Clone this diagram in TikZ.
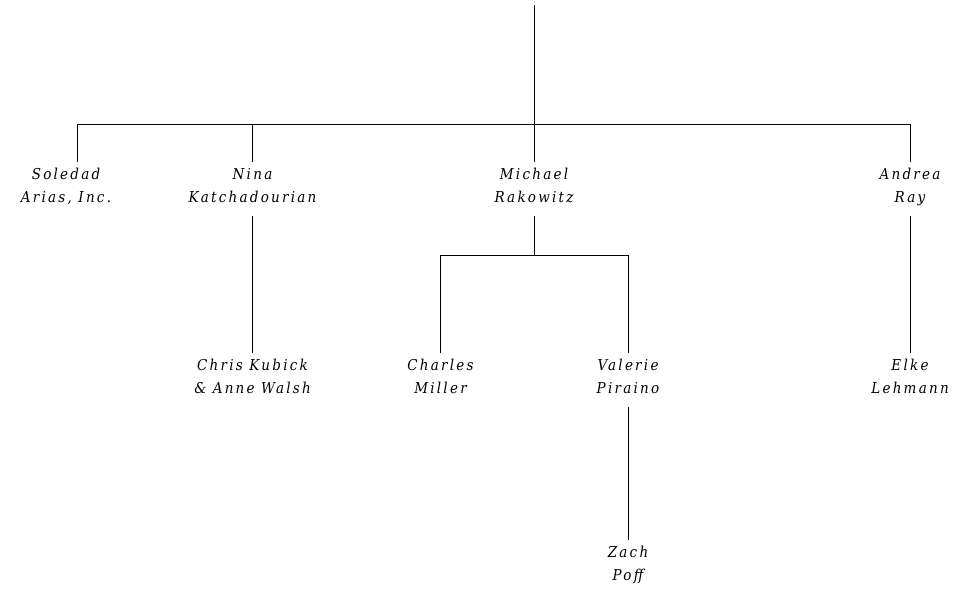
\documentclass[tikz,border=0pt]{standalone}
\usepackage{fontspec}
\newfontfamily\labfont[LetterSpace=15]{DejaVu Serif Condensed}
\begin{document}
\begin{tikzpicture}[x=1pt,y=-1pt,
  person/.style={align=center, inner xsep=0pt, inner ysep=6pt,
    font=\labfont\itshape\fontsize{15}{23.5}\selectfont,
    execute at begin node=\strut, execute at end node=\strut},
  link/.style={draw=black, line width=1pt}]
\useasboundingbox (0,0) rectangle (976,589);
\coordinate (top) at (534,5);
\coordinate (j0) at (534,124);
\coordinate (j1) at (534,255);
\node[person] (sol) at (66,189) {Soledad\\Arias, Inc.};
\node[person] (nina) at (252.5,189) {Nina\\Katchadourian};
\node[person] (mich) at (534,189) {Michael\\Rakowitz};
\node[person] (andrea) at (910,189) {Andrea\\Ray};
\node[person] (chris) at (252.5,380) {Chris Kubick\\\& Anne Walsh};
\node[person] (charles) at (440.5,380) {Charles\\Miller};
\node[person] (valerie) at (628,380) {Valerie\\Piraino};
\node[person] (elke) at (910,380) {Elke\\Lehmann};
\node[person] (zach) at (628,567) {Zach\\Poff};
\draw[link] (top) -- (j0);
\draw[link] (j0) -| ([xshift=11pt]sol.north);
\draw[link] (j0) -| (nina.north);
\draw[link] (j0) -- (mich.north);
\draw[link] (j0) -| (andrea.north);
\draw[link] (nina.south) -- (chris.north);
\draw[link] (mich.south) -- (j1);
\draw[link] (j1) -| (charles.north);
\draw[link] (j1) -| (valerie.north);
\draw[link] (valerie.south) -- (zach.north);
\draw[link] (andrea.south) -- (elke.north);
\end{tikzpicture}
\end{document}
